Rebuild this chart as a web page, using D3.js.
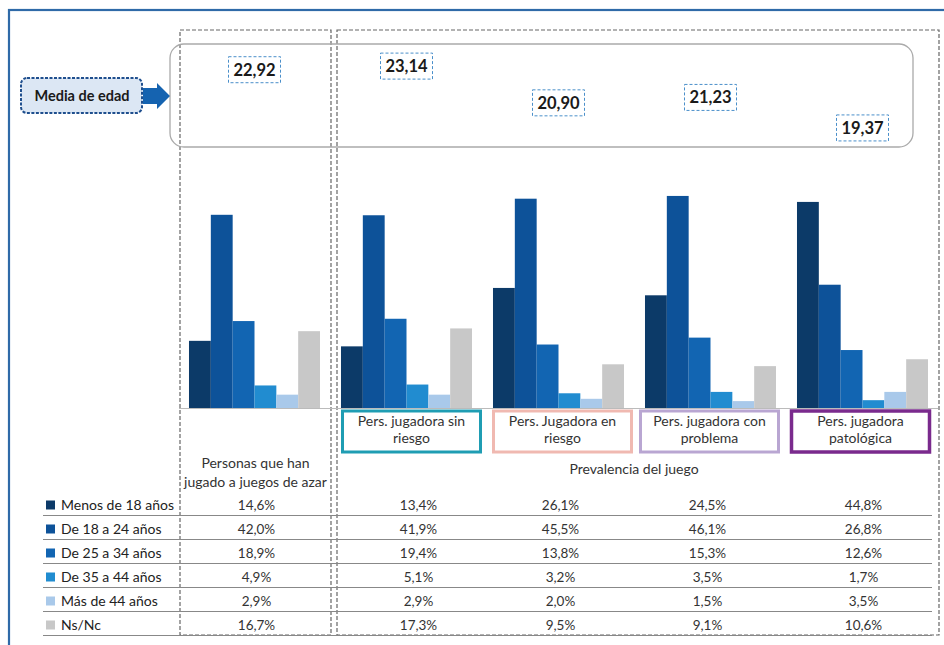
<!DOCTYPE html>
<html><head><meta charset="utf-8">
<script src="https://cdn.jsdelivr.net/npm/d3@7"></script>
<style>
html,body{margin:0;padding:0;background:#fff;}
svg{display:block;font-family:Lato,"Open Sans",sans-serif;}
</style></head>
<body>
<svg id="c" width="944" height="645"></svg>
<script>
// ---- data ----
const groups = ["Personas que han jugado a juegos de azar","Pers. jugadora sin riesgo","Pers. Jugadora en riesgo","Pers. jugadora con problema","Pers. jugadora patológica"];
const groupLabelLines = [["Personas que han","jugado a juegos de azar"],["Pers. jugadora sin","riesgo"],["Pers. Jugadora en","riesgo"],["Pers. jugadora con","problema"],["Pers. jugadora","patológica"]];
const ageGroups = ["Menos de 18 años","De 18 a 24 años","De 25 a 34 años","De 35 a 44 años","Más de 44 años","Ns/Nc"];
const menos18 = [14.6,13.4,26.1,24.5,44.8];
const de18a24 = [42.0,41.9,45.5,46.1,26.8];
const de25a34 = [18.9,19.4,13.8,15.3,12.6];
const de35a44 = [4.9,5.1,3.2,3.5,1.7];
const mas44   = [2.9,2.9,2.0,1.5,3.5];
const nsnc    = [16.7,17.3,9.5,9.1,10.6];
const mediaEdad = [22.92,23.14,20.90,21.23,19.37];
const seriesValues = [menos18,de18a24,de25a34,de35a44,mas44,nsnc];
const seriesColors = ["#0c3a68","#0d5299","#1265b2","#218cd0","#a9c9ea","#c8c8c8"];
const boxColors = [null,"#1f9db3","#f0b9b1","#b9a6d2","#7a2a8d"];

const fmt = v => v.toFixed(1).replace(".", ",") + "%";
const fmtAge = v => v.toFixed(2).replace(".", ",");

const svg = d3.select("#c");

// outer blue frame
svg.append("rect").attr("x",9).attr("y",10).attr("width",960).attr("height",660)
  .attr("fill","none").attr("stroke","#2f6aa8").attr("stroke-width",2.2);

// scales
const x0 = d3.scaleBand().domain(groups).range([178.5,938.5]).paddingInner(0.138).paddingOuter(0.069);
const x1 = d3.scaleBand().domain(ageGroups).range([0,x0.bandwidth()]).padding(0);
const y = d3.scaleLinear().domain([0,50]).range([408,178]);
const yAge = d3.scaleLinear().domain([19,24]).range([134,52]);

// dashed group frames
svg.append("rect").attr("x",180).attr("y",30).attr("width",151).attr("height",605)
  .attr("fill","none").attr("stroke","#666").attr("stroke-width",1.2).attr("stroke-dasharray","4,2");
svg.append("rect").attr("x",337).attr("y",30).attr("width",602).attr("height",605)
  .attr("fill","none").attr("stroke","#666").attr("stroke-width",1.2).attr("stroke-dasharray","4,2");

// rounded rect for mean age
svg.append("rect").attr("x",170).attr("y",44).attr("width",743).attr("height",103).attr("rx",14)
  .attr("fill","none").attr("stroke","#aaa").attr("stroke-width",1.3);

// Media de edad label box + arrow
svg.append("rect").attr("x",21).attr("y",78).attr("width",121).attr("height",35).attr("rx",6)
  .attr("fill","#dce7f4").attr("stroke","#1f4f8e").attr("stroke-width",2).attr("stroke-dasharray","3,1.5");
svg.append("text").attr("x",82).attr("y",100.5).attr("text-anchor","middle")
  .attr("font-size",14.5).attr("font-weight","bold").attr("fill","#1a1a1a").text("Media de edad");
svg.append("path").attr("d","M143,88 L157,88 L157,83 L170,96 L157,109 L157,104 L143,104 Z").attr("fill","#1563b0");

// mean age boxes
const ages = svg.append("g").selectAll("g").data(mediaEdad).join("g")
  .attr("transform",(d,i)=>`translate(${x0(groups[i])+x0.bandwidth()/2},${yAge(d)})`);
ages.append("rect").attr("x",-26).attr("y",-13).attr("width",52).attr("height",26)
  .attr("fill","#fff").attr("stroke","#4a8fca").attr("stroke-width",1).attr("stroke-dasharray","3,2");
ages.append("text").attr("y",6).attr("text-anchor","middle").attr("font-size",16.5)
  .attr("font-weight","bold").attr("fill","#1a1a1a").text(d=>fmtAge(d));

// bars
const gBars = svg.append("g");
groups.forEach((g,gi)=>{
  ageGroups.forEach((a,ai)=>{
    const v = seriesValues[ai][gi];
    gBars.append("rect").attr("x",x0(g)+x1(a)).attr("y",y(v))
      .attr("width",x1.bandwidth()).attr("height",y(0)-y(v)).attr("fill",seriesColors[ai]);
  });
});
// baseline
svg.append("line").attr("x1",179).attr("x2",938).attr("y1",y(0)+0.5).attr("y2",y(0)+0.5)
  .attr("stroke","#bbb").attr("stroke-width",1);

// category label boxes
const boxOffsets = [0,5,4,-1,-2];
groups.forEach((g,i)=>{
  const cx = x0(g)+x0.bandwidth()/2 + boxOffsets[i];
  const lines = groupLabelLines[i];
  if(i===0){
    lines.forEach((l,k)=>svg.append("text").attr("x",cx+1).attr("y",468+k*19).attr("text-anchor","middle")
      .attr("font-size",14).attr("fill","#333").text(l));
  } else {
    svg.append("rect").attr("x",cx-69).attr("y",411).attr("width",138).attr("height",41)
      .attr("fill","#fff").attr("stroke",boxColors[i]).attr("stroke-width",i===4?3.5:3);
    lines.forEach((l,k)=>svg.append("text").attr("x",cx).attr("y",426+k*17).attr("text-anchor","middle")
      .attr("font-size",14).attr("fill","#333").text(l));
  }
});
svg.append("text").attr("x",634).attr("y",474).attr("text-anchor","middle")
  .attr("font-size",14).attr("fill","#333").text("Prevalencia del juego");

// table
const colOffsets = [2,12,2,-3,1];
ageGroups.forEach((a,ai)=>{
  const cy = 505 + ai*24;
  svg.append("rect").attr("x",46).attr("y",cy-4.5).attr("width",9).attr("height",9).attr("fill",seriesColors[ai]);
  svg.append("text").attr("x",61).attr("y",cy+4.5).attr("font-size",14).attr("fill","#222").text(a);
  groups.forEach((g,gi)=>{
    svg.append("text").attr("x",x0(g)+x0.bandwidth()/2+colOffsets[gi]).attr("y",cy+4.5)
      .attr("text-anchor","middle").attr("font-size",13.5).attr("fill","#333").text(fmt(seriesValues[ai][gi]));
  });
  svg.append("line").attr("x1",43).attr("x2",932).attr("y1",cy+10.5).attr("y2",cy+10.5)
    .attr("stroke","#888").attr("stroke-width",1);
});
</script>
</body></html>
